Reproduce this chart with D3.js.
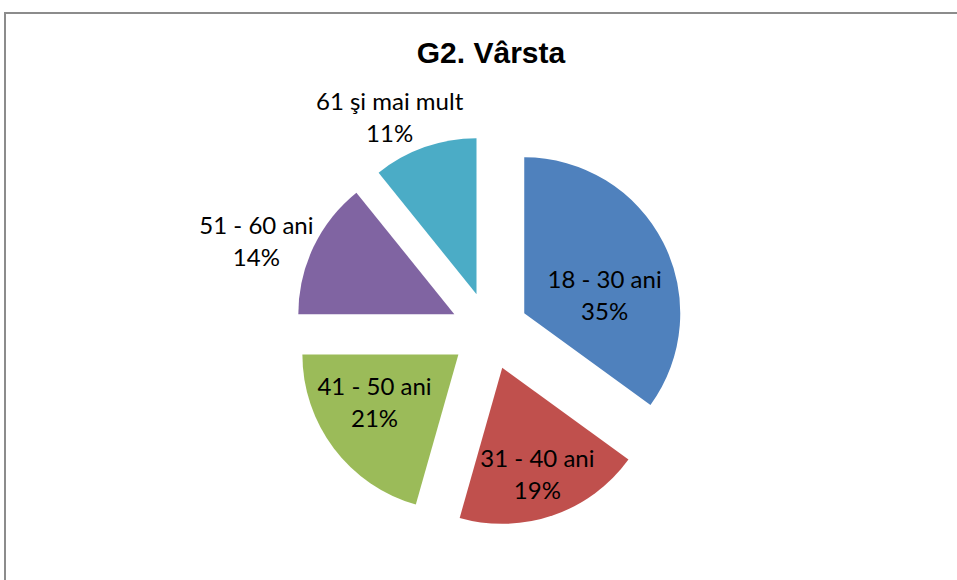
<!DOCTYPE html>
<html>
<head>
<meta charset="utf-8">
<script src="https://cdn.jsdelivr.net/npm/d3@7"></script>
<style>
  html, body { margin: 0; padding: 0; background: #fff; }
  svg { display: block; }
</style>
</head>
<body>
<div id="chart"></div>
<script>
const CATEGORIES = ['18 - 30 ani', '31 - 40 ani', '41 - 50 ani', '51 - 60 ani', '61 şi mai mult']
const VALUES = [35.0, 19.4, 20.6, 14.2, 10.8]
const COLORS = ['#4f81bd', '#c0504d', '#9bbb59', '#8064a2', '#4bacc6']

const width = 957
const height = 580
const center = { x: 489.5, y: 331 }
const radius = 156
const explode = 39

// label placement: inside slices vs outside, with small hand nudges
const labelLayout = [
  { r: 0.65, dx: -10, dy: 21 },
  { r: 0.65, dx: 2, dy: 3 },
  { r: 0.65, dx: -3, dy: -21 },
  { r: 1.25, dx: -22, dy: 4 },
  { r: 1.25, dx: -22, dy: 0 }
]

const svg = d3.select('#chart').append('svg')
  .attr('width', width)
  .attr('height', height)

svg.append('rect')
  .attr('x', 5).attr('y', 13)
  .attr('width', 1200).attr('height', 1200)
  .attr('fill', '#fff')
  .attr('stroke', '#8c8c8c')
  .attr('stroke-width', 2)

svg.append('text')
  .attr('x', 491).attr('y', 63)
  .attr('text-anchor', 'middle')
  .attr('font-family', 'Liberation Sans, Arial, sans-serif')
  .attr('font-weight', 'bold')
  .attr('font-size', 30)
  .text('G2. Vârsta')

const pie = d3.pie().sort(null).value(d => d)
const arcs = pie(VALUES)
const arc = d3.arc().innerRadius(0).outerRadius(radius)

const dir = a => [Math.sin(a), -Math.cos(a)]

const slices = svg.append('g')
  .attr('transform', `translate(${center.x},${center.y})`)
  .selectAll('g')
  .data(arcs)
  .join('g')
  .attr('transform', d => {
    const [x, y] = dir((d.startAngle + d.endAngle) / 2)
    return `translate(${x * explode},${y * explode})`
  })

slices.append('path')
  .attr('d', arc)
  .attr('fill', (d, i) => COLORS[i])

const labels = slices.append('text')
  .attr('font-family', 'Lato, sans-serif')
  .attr('font-size', 24)
  .attr('fill', '#000')
  .attr('text-anchor', 'middle')
  .attr('transform', (d, i) => {
    const L = labelLayout[i]
    const [x, y] = dir((d.startAngle + d.endAngle) / 2)
    return `translate(${x * radius * L.r + L.dx},${y * radius * L.r + L.dy})`
  })

labels.append('tspan')
  .attr('x', 0).attr('y', 0)
  .text((d, i) => CATEGORIES[i])
labels.append('tspan')
  .attr('x', 0).attr('y', 32)
  .text(d => Math.round(d.data) + '%')
</script>
</body>
</html>
